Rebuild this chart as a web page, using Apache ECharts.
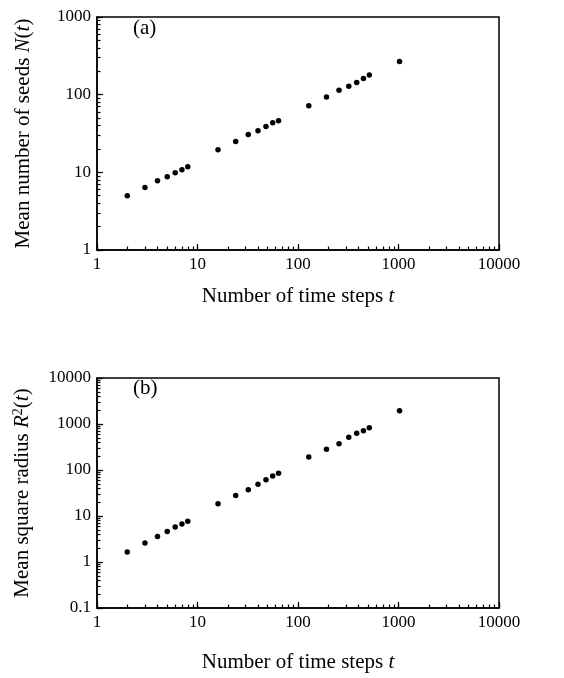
<!DOCTYPE html>
<html><head><meta charset="utf-8">
<script src="https://cdn.jsdelivr.net/npm/echarts@6/dist/echarts.min.js"></script>
<style>html,body{margin:0;padding:0;background:#fff}#c{width:564px;height:678px}</style>
</head><body><div id="c"></div>
<script>
var timeSteps = [2,3,4,5,6,7,8,16,24,32,40,48,56,64,128,192,256,320,384,448,512,1024];
var meanSeeds = [5.0,6.4,7.8,8.8,9.9,10.8,11.8,19.5,25,30.7,34.2,38.9,43.4,46,72,93,114,128,143,162,179,268];
var meanSqRadius = [1.66,2.6,3.6,4.6,5.8,6.7,7.7,18.5,28,37,49,61,74,85,192,281,373,513,627,716,832,1950];
var xTickLabels = [1,10,100,1000,10000];
var yTickLabelsA = [1,10,100,1000];
var yTickLabelsB = [0.1,1,10,100,1000,10000];

function minorVals(lo, hi){ var out=[]; for(var d=lo; d<hi; d*=10){ for(var k=1;k<10;k++){ out.push(+(d*k).toPrecision(6)); } } out.push(hi); return out; }
function pairs(xs, ys){ return xs.map(function(x,i){return [x, ys[i]];}); }

var FONT = 'Liberation Serif';
var black = '#000';
var TF = 21, LF = 17;
function fmt(v){ return String(+(+v).toPrecision(6)); }

function mainX(gi, ticks, nameGap){
  return {type:'log', logBase:10, gridIndex:gi, min:1, max:10000, position:'bottom',
    axisLine:{show:true, lineStyle:{color:black, width:1.5}},
    axisTick:{show:true, inside:true, length:6, customValues:ticks, lineStyle:{color:black,width:1.2}},
    axisLabel:{show:true, customValues:ticks, formatter:fmt, color:black, fontFamily:FONT, fontSize:LF, margin:6},
    splitLine:{show:false},
    name:'Number of time steps {i|t}', nameLocation:'middle', nameGap:nameGap,
    nameTextStyle:{fontFamily:FONT, fontSize:TF, color:black, rich:{i:{fontStyle:'italic', fontFamily:FONT, fontSize:TF, color:black}}}
  };
}
function minorX(gi){
  return {type:'log', logBase:10, gridIndex:gi, min:1, max:10000, position:'bottom',
    axisLine:{show:false}, axisLabel:{show:false}, splitLine:{show:false},
    axisTick:{show:true, inside:true, length:3.5, customValues:minorVals(1,10000), lineStyle:{color:black,width:1.2}}};
}
function mainY(gi, lo, hi, ticks, name, nameGap){
  return {type:'log', logBase:10, gridIndex:gi, min:lo, max:hi, position:'left',
    axisLine:{show:true, lineStyle:{color:black, width:1.5}},
    axisTick:{show:true, inside:true, length:6, customValues:ticks, lineStyle:{color:black,width:1.2}},
    axisLabel:{show:true, customValues:ticks, formatter:fmt, color:black, fontFamily:FONT, fontSize:LF, margin:6},
    splitLine:{show:false},
    name:name, nameLocation:'middle', nameRotate:90, nameGap:nameGap,
    nameTextStyle:{fontFamily:FONT, fontSize:TF, color:black, rich:{
      n:{fontFamily:FONT, fontSize:TF, color:black},
      i:{fontStyle:'italic', fontFamily:FONT, fontSize:TF, color:black},
      s:{fontFamily:FONT, fontSize:14, color:black, verticalAlign:'top', padding:[0,0,9,0]}}}
  };
}
function minorY(gi, lo, hi){
  return {type:'log', logBase:10, gridIndex:gi, min:lo, max:hi, position:'left',
    axisLine:{show:false}, axisLabel:{show:false}, splitLine:{show:false},
    axisTick:{show:true, inside:true, length:3.5, customValues:minorVals(lo,hi), lineStyle:{color:black,width:1.2}}};
}

var chart = echarts.init(document.getElementById('c'), null, {renderer:'canvas'});
chart.setOption({
  backgroundColor:'#fff',
  animation:false,
  title:[
    {text:'(a)', left:128, top:13, textStyle:{fontFamily:FONT, fontSize:21, fontWeight:'normal', color:black}},
    {text:'(b)', left:128, top:373, textStyle:{fontFamily:FONT, fontSize:21, fontWeight:'normal', color:black}}
  ],
  grid:[
    {left:97, top:17, width:402, height:233, show:true, borderColor:black, borderWidth:1.5, backgroundColor:'transparent'},
    {left:97, top:378, width:402, height:230, show:true, borderColor:black, borderWidth:1.5, backgroundColor:'transparent'}
  ],
  xAxis:[mainX(0, xTickLabels, 36), minorX(0), mainX(1, xTickLabels, 44), minorX(1)],
  yAxis:[
    mainY(0, 1, 1000, yTickLabelsA, 'Mean number of seeds {i|N}({i|t})', 63), minorY(0, 1, 1000),
    mainY(1, 0.1, 10000, yTickLabelsB, 'Mean square radius {i|R}{s|2}({i|t})', 63), minorY(1, 0.1, 10000)
  ],
  series:[
    {type:'scatter', xAxisIndex:0, yAxisIndex:0, data:pairs(timeSteps, meanSeeds), symbol:'circle', symbolSize:5.5, itemStyle:{color:black, opacity:1}},
    {type:'scatter', xAxisIndex:2, yAxisIndex:2, data:pairs(timeSteps, meanSqRadius), symbol:'circle', symbolSize:5.5, itemStyle:{color:black, opacity:1}}
  ]
});
</script></body></html>
